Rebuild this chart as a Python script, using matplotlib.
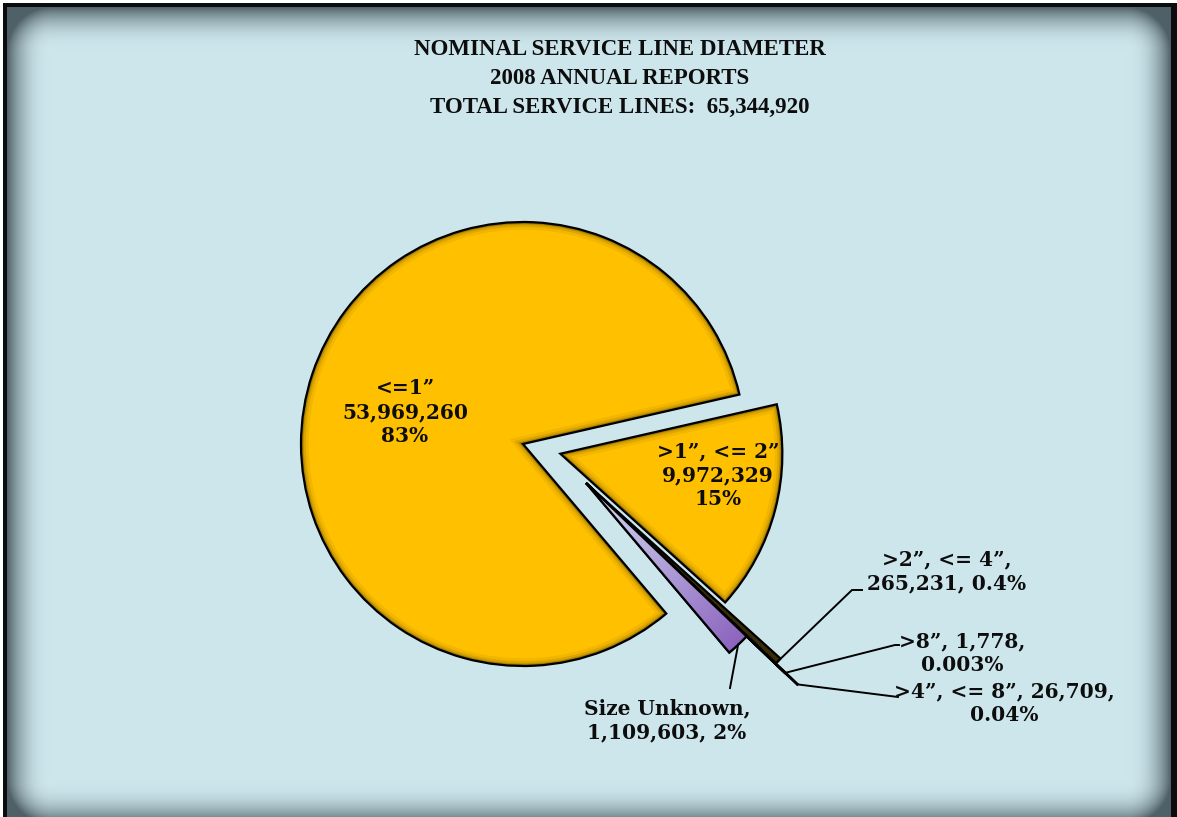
import numpy as np
import matplotlib.pyplot as plt
import matplotlib.patches as mpatches

# data
sizes = ['<=1”', '>1”, <= 2”', '>2”, <= 4”', '>4”, <= 8”', '>8”', 'Size Unknown']
lines = [53969260, 9972329, 265231, 26709, 1778, 1109603]
pcts = ['83%', '15%', '0.4%', '0.04%', '0.003%', '2%']
total = 65344920
title_lines = ['NOMINAL SERVICE LINE DIAMETER', '2008 ANNUAL REPORTS',
               'TOTAL SERVICE LINES:  {:,}'.format(total)]
colors = ['#FFC000', '#FFC000', '#3A2C06', '#2A2410', '#2A2410', '#9A7CC8']

W, H = 1177, 817
fig = plt.figure(figsize=(W / 100, H / 100), dpi=100)
ax = fig.add_axes([0, 0, 1, 1])

# background panel with dark frame and inner shadow
yy, xx = np.mgrid[0:H, 0:W] + 0.5
L, T, R, B = 7, 7, 1171, 824
s = 45
ex = np.maximum(np.maximum(L + s - xx, xx - (R - s)), 0)
ey = np.maximum(np.maximum(T + s - yy, yy - (B - s)), 0)
e = np.clip(np.hypot(ex, ey) / s, 0, 1)
bg = np.array([205, 230, 236]) / 255
sh = np.array([62, 78, 86]) / 255
a = (e ** 2.4 * 0.88)[..., None]
img = bg * (1 - a) + sh * a
frame = (xx < L) | (yy < T) | (xx > R)
img[frame] = 0.05
img[(xx < 3) | (yy < 3)] = 1.0
ax.imshow(img, extent=(0, W, 0, H), origin='upper', zorder=0, interpolation='bilinear')

# pie
cx, cy, r = 523, 373, 222
explode = [0, 38.6, 0, 0, 0, 0]
wedges, _ = ax.pie(lines, colors=colors, startangle=-49.8, counterclock=False,
                   radius=r, center=(cx, cy), explode=explode,
                   wedgeprops=dict(edgecolor='black', linewidth=1.6))

# small slices pulled out together, the thin ones sticking out further
group_shift = (63, -39)
for w in wedges[2:]:
    w.set_center((cx + group_shift[0], cy + group_shift[1]))
for w, rr in zip(wedges[2:5], [262, 292, 275]):
    w.set_radius(rr)

# inner shadow on the yellow slices
for w in wedges[:2]:
    for lw, al in [(11, 0.05), (7, 0.09), (4, 0.14), (2.5, 0.2)]:
        p = mpatches.PathPatch(w.get_path(), fc='none', ec='black', lw=lw,
                               alpha=al, zorder=1.2)
        ax.add_patch(p)
        p.set_clip_path(w)

# gradient fill on the size-unknown slice
wu = wedges[5]
ext = wu.get_path().get_extents()
th = np.deg2rad((wu.theta1 + wu.theta2) / 2)
gx, gy = np.meshgrid(np.linspace(ext.x0, ext.x1, 200), np.linspace(ext.y1, ext.y0, 200))
t = np.clip(((gx - wu.center[0]) * np.cos(th) + (gy - wu.center[1]) * np.sin(th)) / wu.r, 0, 1)
c0 = np.array([214, 222, 245]) / 255
c1 = np.array([140, 100, 190]) / 255
grad = c0 * (1 - t)[..., None] + c1 * t[..., None]
im = ax.imshow(grad, extent=(ext.x0, ext.x1, ext.y0, ext.y1), origin='upper', zorder=1.3)
im.set_clip_path(wu)
ax.add_patch(mpatches.PathPatch(wu.get_path(), fc='none', ec='black', lw=1.6, zorder=1.4))


def tip(w):
    a = np.deg2rad((w.theta1 + w.theta2) / 2)
    return w.center[0] + w.r * np.cos(a), w.center[1] + w.r * np.sin(a)


# leader lines (elbow points in image pixels, y from top)
leaders = {2: [(852, 590), (862, 590)], 3: [(898, 697)],
           4: [(895, 645), (899, 645)], 5: [(730, 688)]}
for i, pts in leaders.items():
    x0, y0 = tip(wedges[i])
    xs = [x0] + [p[0] for p in pts]
    ys = [y0] + [H - p[1] for p in pts]
    ax.plot(xs, ys, color='black', lw=1.4, zorder=2)

lbl = dict(family='DejaVu Serif', weight='bold', size=14.5, ha='center',
           va='center', linespacing=1.25, color='#0d0d0d', zorder=3)
ax.text(405, H - 412, '{}\n{:,}\n{}'.format(sizes[0], lines[0], pcts[0]), **lbl)
ax.text(718, H - 475, '{}\n{:,}\n{}'.format(sizes[1], lines[1], pcts[1]), **lbl)
ax.text(947, H - 571, '{},\n{:,}, {}'.format(sizes[2], lines[2], pcts[2]), **lbl)
ax.text(1004, H - 703, '{}, {:,},\n{}'.format(sizes[3], lines[3], pcts[3]), **lbl)
ax.text(962, H - 653, '{}, {:,},\n{}'.format(sizes[4], lines[4], pcts[4]), **lbl)
ax.text(667, H - 720, '{},\n{:,}, {}'.format(sizes[5], lines[5], pcts[5]), **lbl)

for txt, yt in zip(title_lines, [49, 78, 107]):
    ax.text(620, H - yt, txt, family='Liberation Serif', weight='bold', size=16.5,
            ha='center', va='center', color='#0d0d0d', zorder=3)

ax.set_xlim(0, W)
ax.set_ylim(0, H)
ax.set_aspect('equal')
ax.axis('off')

fig.savefig('out.png', dpi=100)
